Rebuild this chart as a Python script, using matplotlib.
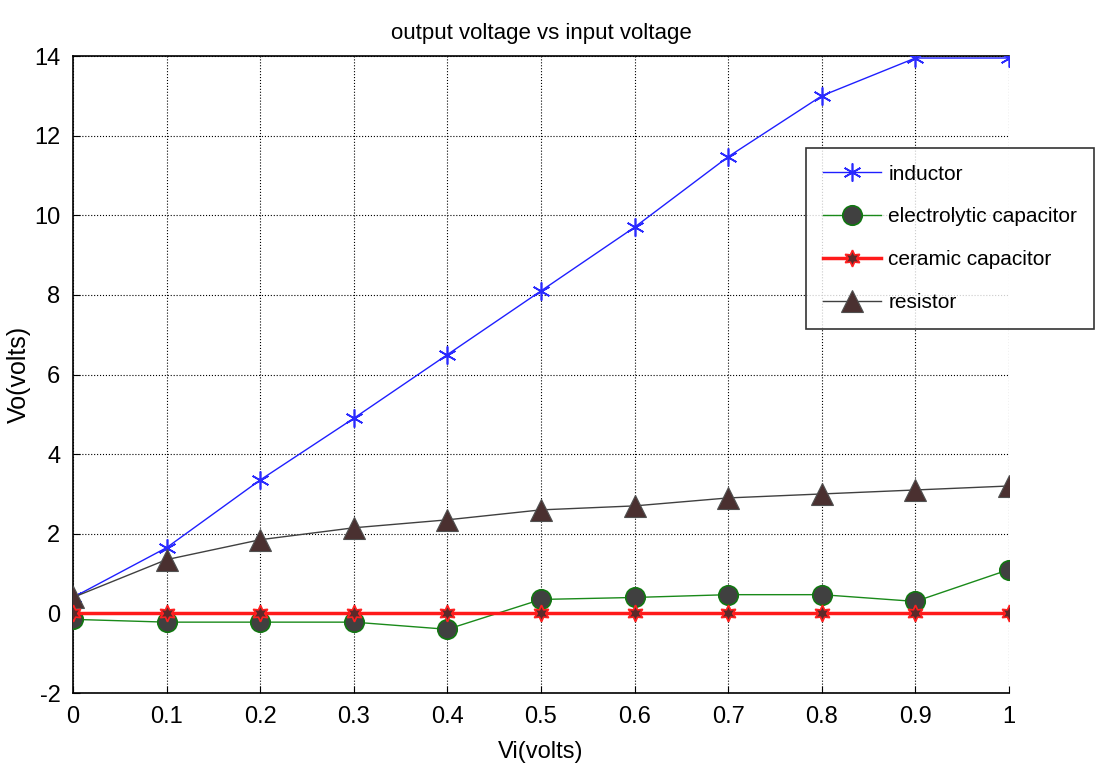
import matplotlib
matplotlib.use('Agg')
import matplotlib.pyplot as plt
import numpy as np

plt.rcParams['font.family'] = ['Liberation Sans', 'DejaVu Sans']
plt.rcParams['axes.unicode_minus'] = False

# data
vi = [0, 0.1, 0.2, 0.3, 0.4, 0.5, 0.6, 0.7, 0.8, 0.9, 1.0]
inductor = [0.4, 1.65, 3.35, 4.9, 6.5, 8.1, 9.7, 11.47, 13.0, 13.95, 13.95]
electrolytic = [-0.15, -0.22, -0.22, -0.22, -0.4, 0.35, 0.4, 0.47, 0.47, 0.3, 1.1]
ceramic = [0, 0, 0, 0, 0, 0, 0, 0, 0, 0, 0]
resistor = [0.4, 1.35, 1.85, 2.15, 2.35, 2.6, 2.7, 2.9, 3.0, 3.1, 3.2]

xticks = [0, 0.1, 0.2, 0.3, 0.4, 0.5, 0.6, 0.7, 0.8, 0.9, 1]
xticklabels = ['0', '0.1', '0.2', '0.3', '0.4', '0.5', '0.6', '0.7', '0.8', '0.9', '1']
yticks = [-2, 0, 2, 4, 6, 8, 10, 12, 14]

fig = plt.figure(figsize=(10.97, 7.75), dpi=100)
ax = fig.add_axes([0.0665, 0.1058, 0.8533, 0.8219])

asterisk = (6, 2, 0)
hexagram = (6, 1, 0)

ax.plot(vi, inductor, color='#1f1fff', lw=1.0, marker=asterisk, ms=13,
        mec='#2a2aff', mew=1.2, label='inductor', zorder=3)
ax.plot(vi, electrolytic, color='#1a8a1a', lw=1.0, marker='o', ms=14,
        mfc='#404040', mec='#117711', mew=1.2, label='electrolytic capacitor', zorder=3)
ax.plot(vi, ceramic, color='#ff1a1a', lw=2.5, marker=hexagram, ms=12,
        mfc='#5c2a2a', mec='#ff2020', mew=1.2, label='ceramic capacitor', zorder=4)
ax.plot(vi, resistor, color='#404040', lw=1.0, marker='^', ms=16,
        mfc='#4a3030', mec='#505050', mew=0.8, label='resistor', zorder=3)

ax.set_xlim(0, 1)
ax.set_ylim(-2, 14)
ax.set_xticks(xticks)
ax.set_xticklabels(xticklabels)
ax.set_yticks(yticks)
ax.tick_params(direction='in', length=5, labelsize=17, pad=9)
ax.grid(True, color='black', linestyle=':', linewidth=0.8)
ax.spines['right'].set_visible(False)
for s in ['left', 'top', 'bottom']:
    ax.spines[s].set_linewidth(1.2)

ax.set_title('output voltage vs input voltage', fontsize=16, pad=12)
ax.set_xlabel('Vi(volts)', fontsize=17, labelpad=10)
ax.set_ylabel('Vo(volts)', fontsize=18)
ax.yaxis.set_label_coords(-0.045, 0.5)

leg = ax.legend(loc='upper left', bbox_to_anchor=(0.7347, 0.809), bbox_transform=fig.transFigure,
                fontsize=15, frameon=True, fancybox=False, edgecolor='black',
                handlelength=2.8, labelspacing=1.14, borderpad=0.8, handletextpad=0.35,
                borderaxespad=0)
leg.get_frame().set_linewidth(1.2)

fig.savefig('out.png', dpi=100)
